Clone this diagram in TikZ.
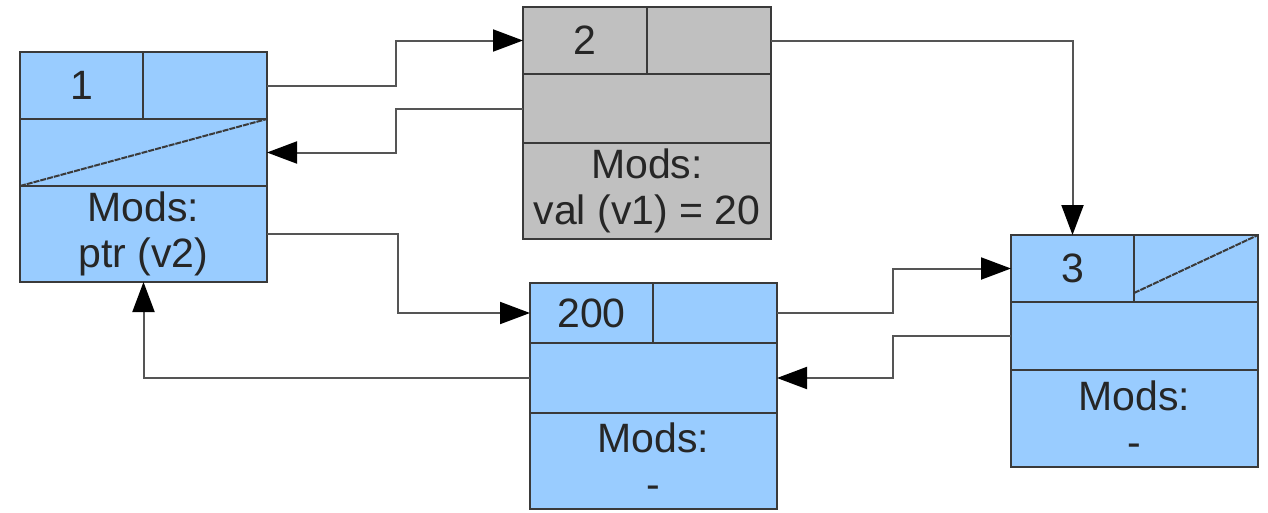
\documentclass[tikz,border=0pt]{standalone}
\usepackage{fontspec}
\setmainfont{Liberation Sans}
\usetikzlibrary{arrows.meta,calc}
\definecolor{cellblue}{HTML}{99CCFF}
\definecolor{cellgray}{HTML}{C0C0C0}
\definecolor{edgecol}{HTML}{3A3A3A}
\definecolor{linkcol}{HTML}{555555}
\begin{document}
\begin{tikzpicture}[x=1pt,y=-1pt,
  cell/.style={draw=edgecol,line width=2.2pt,inner sep=0pt,outer sep=0pt,anchor=north west,
    font=\fontsize{41}{46}\selectfont,text=black!85,align=center},
  blue/.style={cell,fill=cellblue},
  grey/.style={cell,fill=cellgray},
  link/.style={draw=linkcol,line width=2pt,-{Triangle[length=30pt,width=22pt,fill=black,color=black]}},
  plain/.style={draw=linkcol,line width=2pt}]
\useasboundingbox (0,0) rectangle (1268,512);
% box 1
\node[blue,minimum width=123pt,minimum height=67pt] (b1v) at (20,52) {1};
\node[blue,minimum width=124pt,minimum height=67pt] (b1n) at (143,52) {};
\node[blue,minimum width=247pt,minimum height=67pt] (b1p) at (20,119) {};
\node[blue,minimum width=247pt,minimum height=96pt] (b1m) at (20,186) {Mods:\\ptr (v2)};
\draw[edgecol,line width=2pt,dash pattern=on 6pt off 1pt] (b1p.south west) -- (b1p.north east);
% box 2
\node[grey,minimum width=124pt,minimum height=67pt] (b2v) at (523,7) {2};
\node[grey,minimum width=124pt,minimum height=67pt] (b2n) at (647,7) {};
\node[grey,minimum width=248pt,minimum height=69pt] (b2p) at (523,74) {};
\node[grey,minimum width=248pt,minimum height=96pt] (b2m) at (523,143) {Mods:\\val (v1) = 20};
% box 200
\node[blue,minimum width=123pt,minimum height=60pt] (b4v) at (530,283) {200};
\node[blue,minimum width=124pt,minimum height=60pt] (b4n) at (653,283) {};
\node[blue,minimum width=247pt,minimum height=70pt] (b4p) at (530,343) {};
\node[blue,minimum width=247pt,minimum height=96pt] (b4m) at (530,413) {Mods:\\-};
% box 3
\node[blue,minimum width=123pt,minimum height=67pt] (b3v) at (1011,235) {3};
\node[blue,minimum width=124pt,minimum height=67pt] (b3n) at (1134,235) {};
\node[blue,minimum width=247pt,minimum height=68pt] (b3p) at (1011,302) {};
\node[blue,minimum width=247pt,minimum height=97pt] (b3m) at (1011,370) {Mods:\\-};
\draw[edgecol,line width=2pt,dash pattern=on 6pt off 1pt] ([yshift=9pt]b3n.south west) -- (b3n.north east);
% connectors
\draw[link] (b1n.east) -- ++(129,0) |- (b2v.west);
\draw[link] (b2p.west) -- ++(-127,0) |- (b1p.east);
\draw[link] (b1m.east) -- ++(131,0) |- (b4v.west);
\draw[link] (b4p.west) -| (b1m.south);
\draw[link] (b2n.east) -| (b3v.north);
\draw[link] (b4n.east) -- ++(116,0) |- (b3v.west);
\draw[link] (b3p.west) -- ++(-118,0) |- (b4p.east);
\end{tikzpicture}
\end{document}
